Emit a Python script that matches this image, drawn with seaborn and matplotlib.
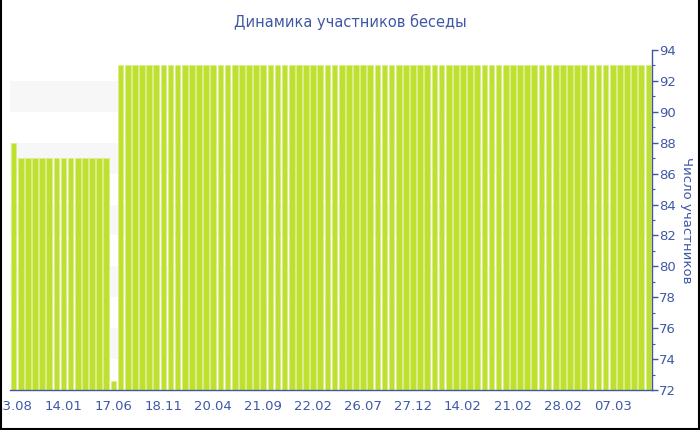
import numpy as np
import pandas as pd
import seaborn as sns
import matplotlib.pyplot as plt
from matplotlib.lines import Line2D
from matplotlib.ticker import MultipleLocator

# participants per snapshot
members = [
    88, 87, 87, 87, 87, 87, 87, 87, 87, 87,
    87, 87, 87, 87, 72.6, 93, 93, 93, 93, 93,
    93, 93, 93, 93, 93, 93, 93, 93, 93, 93,
    93, 93, 93, 93, 93, 93, 93, 93, 93, 93,
    93, 93, 93, 93, 93, 93, 93, 93, 93, 93,
    93, 93, 93, 93, 93, 93, 93, 93, 93, 93,
    93, 93, 93, 93, 93, 93, 93, 93, 93, 93,
    93, 93, 93, 93, 93, 93, 93, 93, 93, 93,
    93, 93, 93, 93, 93, 93, 93, 93, 93, 93,
]
tick_labels = ["13.08", "14.01", "17.06", "18.11", "20.04", "21.09", "22.02",
               "26.07", "27.12", "14.02", "21.02", "28.02", "07.03"]
tick_step = 7
y_ticks = [72, 74, 76, 78, 80, 82, 84, 86, 88, 90, 92, 94]

df = pd.DataFrame({"idx": range(len(members)), "members": members})

sns.set_style("white")
plt.rcParams['font.family'] = ['DejaVu Sans']

blue = "#3f58a6"
green = "#bfe02e"

fig = plt.figure(figsize=(7, 4.3), dpi=100)
ax = fig.add_axes([10 / 700, 40 / 430, 642 / 700, 340 / 430])

# faint horizontal bands
for lo in [74, 78, 82, 86, 90]:
    ax.axhspan(lo, lo + 2, color="#f7f7f7", zorder=0, lw=0)

sns.barplot(data=df, x="idx", y="members", color=green, width=0.8,
            saturation=1, ax=ax, zorder=2, edgecolor="#d8ee8a", linewidth=0.6)

ax.set_xlim(-0.5, len(members) - 0.5)
ax.set_ylim(72, 94)

ax.set_xticks(range(0, len(tick_labels) * tick_step, tick_step))
ax.set_xticklabels(tick_labels)
ax.set_xlabel("")

ax.yaxis.tick_right()
ax.yaxis.set_label_position("right")
ax.set_yticks(y_ticks)
ax.yaxis.set_minor_locator(MultipleLocator(1))
ax.set_ylabel("Число участников", color=blue, fontsize=9.5, rotation=270, labelpad=12)

ax.tick_params(axis="both", colors=blue, labelcolor=blue, labelsize=9.5,
               length=4, width=1, direction="out")
ax.tick_params(axis="y", which="minor", colors=blue, length=2, width=0.8, right=True)
ax.tick_params(axis="x", pad=3)
ax.tick_params(axis="y", pad=1)

for side in ["top", "left"]:
    ax.spines[side].set_visible(False)
for side in ["bottom", "right"]:
    ax.spines[side].set_color(blue)
    ax.spines[side].set_linewidth(1)

fig.text(0.5, 1 - 22 / 430, "Динамика участников беседы", ha="center", va="center",
         color=blue, fontsize=10.5)

# frame around the picture (left, bottom, right)
for xs, ys in [([0.0015, 0.0015], [0, 1]), ([0, 1], [0.002, 0.002]), ([0.9985, 0.9985], [0, 1])]:
    fig.add_artist(Line2D(xs, ys, color="black", lw=1.5, transform=fig.transFigure))

fig.savefig("out.png", dpi=100)
